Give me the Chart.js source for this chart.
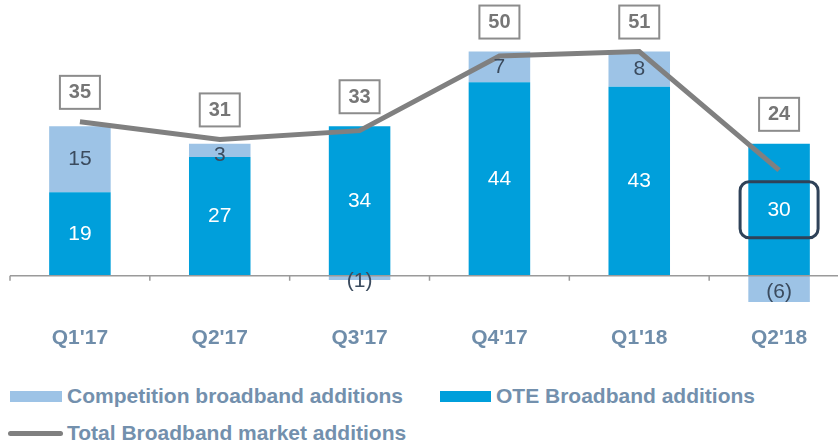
<!DOCTYPE html>
<html>
<head>
<meta charset="utf-8">
<script src="https://cdn.jsdelivr.net/npm/chart.js@4"></script>
<style>
  body { margin: 0; background: #fff; overflow: hidden; width: 838px; height: 443px; position: relative; font-family: "Liberation Sans", Arial, sans-serif; }
  #wrap { position: absolute; left: 0; top: 0; width: 860px; height: 376px; }
  .leg { position: absolute; font-weight: bold; font-size: 21px; color: #7390ad; white-space: nowrap; line-height: 24px; }
  .sw { position: absolute; }
</style>
</head>
<body>
<div id="wrap"><canvas id="bbChart"></canvas></div>

<div class="sw" style="left:10px;top:391px;width:52px;height:11px;background:#9dc3e6"></div>
<div class="leg" style="left:67px;top:384px">Competition broadband additions</div>
<div class="sw" style="left:440px;top:391px;width:51px;height:11px;background:#009fdb"></div>
<div class="leg" style="left:496px;top:384px">OTE Broadband additions</div>
<div class="sw" style="left:8px;top:431px;width:55px;height:5px;border-radius:3px;background:#808080"></div>
<div class="leg" style="left:67px;top:421px">Total Broadband market additions</div>

<script>
const quarters = ["Q1'17", "Q2'17", "Q3'17", "Q4'17", "Q1'18", "Q2'18"];
const oteAdds = [19, 27, 34, 44, 43, 30];
const compAdds = [15, 3, -1, 7, 8, -6];
const totalAdds = [35, 31, 33, 50, 51, 24];
const highlightIdx = 5;

const fmt = v => v < 0 ? `(${-v})` : `${v}`;

// zero line, boundary ticks, segment labels and boxed totals
const decorations = {
    id: 'decorations',
    afterDatasetsDraw(chart) {
        const { ctx, chartArea, scales: { x, y } } = chart;
        const y0 = y.getPixelForValue(0);
        const step = x.getPixelForValue(1) - x.getPixelForValue(0);

        ctx.save();
        ctx.strokeStyle = '#9a9a9a';
        ctx.lineWidth = 1.5;
        ctx.beginPath();
        ctx.moveTo(chartArea.left, y0);
        ctx.lineTo(chartArea.right, y0);
        for (let i = 0; i <= quarters.length; i++) {
            const bx = x.getPixelForValue(i) - step / 2;
            ctx.moveTo(bx, y0);
            ctx.lineTo(bx, y0 + 5);
        }
        ctx.stroke();

        ctx.textAlign = 'center';
        ctx.textBaseline = 'middle';
        ctx.font = '21px "Liberation Sans", Arial, sans-serif';
        const oteMeta = chart.getDatasetMeta(0);
        const compMeta = chart.getDatasetMeta(1);
        quarters.forEach((q, i) => {
            const ob = oteMeta.data[i];
            const cb = compMeta.data[i];
            const oy = (ob.y + ob.base) / 2;
            ctx.fillStyle = '#ffffff';
            ctx.fillText(fmt(oteAdds[i]), ob.x, oy);
            ctx.fillStyle = '#3b4b5e';
            const cy = compAdds[i] < 0 ? (cb.y + cb.base) / 2 + 3 : (cb.y + cb.base) / 2 + (compAdds[i] < 5 ? 5 : 0);
            ctx.fillText(fmt(compAdds[i]), cb.x, cy);

            if (i === highlightIdx) {
                ctx.strokeStyle = '#2f4258';
                ctx.lineWidth = 3;
                ctx.beginPath();
                ctx.roundRect(ob.x - 39, oy - 28, 78, 56, 9);
                ctx.stroke();
            }
        });

        ctx.font = 'bold 20px "Liberation Sans", Arial, sans-serif';
        quarters.forEach((q, i) => {
            const top = Math.max(oteAdds[i] + Math.max(compAdds[i], 0), totalAdds[i]);
            const cx = x.getPixelForValue(i);
            const cy = y.getPixelForValue(top) - 30;
            ctx.fillStyle = '#ffffff';
            ctx.fillRect(cx - 20, cy - 16, 40, 33);
            ctx.strokeStyle = '#8c8c8c';
            ctx.lineWidth = 2;
            ctx.strokeRect(cx - 20, cy - 16, 40, 33);
            ctx.fillStyle = '#767676';
            ctx.fillText(fmt(totalAdds[i]), cx, cy + 1);
        });
        ctx.restore();
    }
};

new Chart(document.getElementById('bbChart'), {
    type: 'bar',
    data: {
        labels: quarters,
        datasets: [
            {
                label: 'OTE Broadband additions',
                data: oteAdds,
                backgroundColor: '#009fdb',
                stack: 'bars',
                order: 1
            },
            {
                label: 'Competition broadband additions',
                data: compAdds,
                backgroundColor: '#9dc3e6',
                stack: 'bars',
                order: 2
            },
            {
                type: 'line',
                label: 'Total Broadband market additions',
                data: totalAdds,
                borderColor: '#808080',
                borderWidth: 5,
                pointRadius: 0,
                tension: 0,
                stack: 'line',
                order: 0
            }
        ]
    },
    options: {
        responsive: true,
        maintainAspectRatio: false,
        animation: false,
        datasets: { bar: { barPercentage: 0.44, categoryPercentage: 1 } },
        layout: { padding: { left: 10, right: 11, top: 12, bottom: 10 } },
        plugins: { legend: { display: false }, tooltip: { enabled: false } },
        scales: {
            x: {
                stacked: true,
                grid: { display: false, drawTicks: false },
                border: { display: false },
                ticks: {
                    color: '#6f8daa',
                    padding: 15,
                    font: { family: '"Liberation Sans", Arial, sans-serif', size: 21, weight: 'bold' }
                }
            },
            y: {
                stacked: true,
                display: false,
                min: -8,
                max: 60
            }
        }
    },
    plugins: [decorations]
});
</script>
</body>
</html>
